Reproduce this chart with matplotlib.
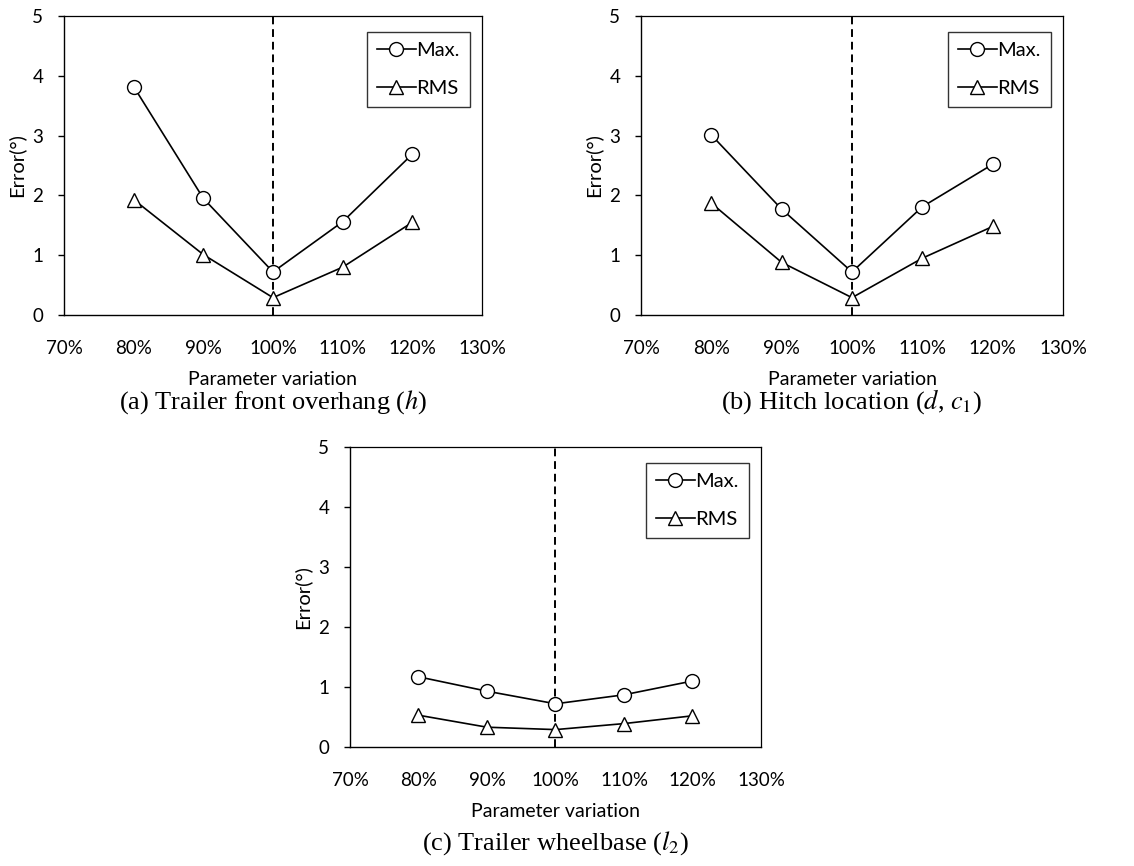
import matplotlib
matplotlib.use("Agg")
import matplotlib.pyplot as plt

# Parameter variation levels (percent of nominal)
variation = [80, 90, 100, 110, 120]
x_ticks = [70, 80, 90, 100, 110, 120, 130]
x_tick_labels = ["70%", "80%", "90%", "100%", "110%", "120%", "130%"]
y_ticks = [0, 1, 2, 3, 4, 5]

# (a) Trailer front overhang
overhang_max = [3.82, 1.95, 0.72, 1.56, 2.69]
overhang_rms = [1.93, 1.01, 0.29, 0.80, 1.55]

# (b) Hitch location
hitch_max = [3.01, 1.77, 0.72, 1.81, 2.52]
hitch_rms = [1.87, 0.88, 0.29, 0.95, 1.48]

# (c) Trailer wheelbase
wheelbase_max = [1.17, 0.93, 0.72, 0.87, 1.10]
wheelbase_rms = [0.53, 0.33, 0.29, 0.39, 0.52]

captions = [
    r"(a) Trailer front overhang ($h$)",
    r"(b) Hitch location ($d$, $c_1$)",
    r"(c) Trailer wheelbase ($l_2$)",
]

plt.rcParams["mathtext.fontset"] = "stix"
SANS = ["Lato", "DejaVu Sans"]
SERIF = ["Liberation Serif", "DejaVu Serif"]

W, H = 1134, 866
fig = plt.figure(figsize=(W / 100, H / 100), dpi=100)


def px_axes(left, top, right, bottom):
    return fig.add_axes([left / W, 1 - bottom / H, (right - left) / W, (bottom - top) / H])


def draw_panel(ax, y_max, y_rms, caption, cap_y):
    ax.set_xlim(70, 130)
    ax.set_ylim(0, 5)
    ax.axvline(100, color="black", ls=(0, (4, 2.5)), lw=1.4, zorder=1)
    ax.plot(variation, y_max, color="black", lw=1.2, marker="o", ms=10,
            mfc="white", mec="black", mew=1.0, label="Max.", zorder=3)
    ax.plot(variation, y_rms, color="black", lw=1.2, marker="^", ms=10,
            mfc="white", mec="black", mew=1.0, label="RMS", zorder=3)
    ax.set_xticks(x_ticks)
    ax.set_xticklabels(x_tick_labels, fontfamily=SANS, fontsize=13.5)
    ax.set_yticks(y_ticks)
    ax.set_yticklabels([str(v) for v in y_ticks], fontfamily=SANS, fontsize=13.5)
    ax.tick_params(axis="x", length=0, pad=18)
    ax.tick_params(axis="y", length=4, width=1, direction="out", pad=11)
    for s in ax.spines.values():
        s.set_linewidth(1.0)
        s.set_color("black")
    ax.spines["top"].set_linewidth(0.9)
    ax.spines["right"].set_linewidth(0.9)
    ax.set_xlabel("Parameter variation", fontfamily=SANS, fontsize=14, labelpad=10)
    ax.set_ylabel("Error(°)", fontfamily=SANS, fontsize=14.5, labelpad=5)
    bw = ax.get_position().width * W
    bh = ax.get_position().height * H
    leg = ax.legend(loc="upper right",
                    bbox_to_anchor=(1 - 12 / bw, 1 - 16 / bh), frameon=True,
                    fancybox=False, edgecolor="black", handlelength=1.9,
                    handletextpad=0.05, labelspacing=1.05, borderpad=0.5,
                    borderaxespad=0.0, prop={"family": SANS, "size": 14.5})
    leg.get_frame().set_linewidth(1.0)
    bbox = ax.get_position()
    fig.text((bbox.x0 + bbox.x1) / 2, 1 - cap_y / H, caption, ha="center",
             va="center", fontfamily=SERIF, fontsize=19)


ax_a = px_axes(64, 16, 482, 315)
draw_panel(ax_a, overhang_max, overhang_rms, captions[0], 402)

ax_b = px_axes(641, 16, 1063, 315)
draw_panel(ax_b, hitch_max, hitch_rms, captions[1], 402)

ax_c = px_axes(350, 447, 761, 747)
draw_panel(ax_c, wheelbase_max, wheelbase_rms, captions[2], 843)

fig.savefig("out.png", dpi=100)
